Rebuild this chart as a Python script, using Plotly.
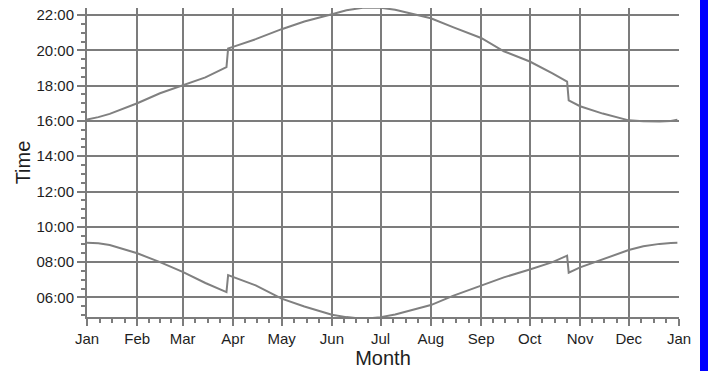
import pandas as pd
import plotly.graph_objects as go

# Sample dates through the year (includes the day before/after each clock change)
dates = [
    "2009-01-01", "2009-01-08", "2009-01-15", "2009-02-01", "2009-02-15",
    "2009-03-01", "2009-03-15", "2009-03-28", "2009-03-29", "2009-04-01",
    "2009-04-15", "2009-05-01", "2009-05-15", "2009-06-01", "2009-06-10",
    "2009-06-21", "2009-07-01", "2009-07-10", "2009-07-18", "2009-08-01",
    "2009-08-15", "2009-09-01", "2009-09-15", "2009-10-01", "2009-10-15",
    "2009-10-24", "2009-10-25", "2009-11-01", "2009-11-15", "2009-12-01",
    "2009-12-10", "2009-12-20", "2009-12-27", "2009-12-31",
]

sunrise = [
    "09:06", "09:04", "08:58", "08:30", "08:00",
    "07:27", "06:49", "06:18", "07:16", "07:10",
    "06:41", "05:56", "05:29", "05:01", "04:53",
    "04:47", "04:53", "05:02", "05:13", "05:34",
    "06:06", "06:39", "07:08", "07:35", "08:00",
    "08:22", "07:24", "07:42", "08:10", "08:41",
    "08:54", "09:02", "09:05", "09:06",
]

sunset = [
    "16:05", "16:13", "16:24", "17:00", "17:34",
    "18:00", "18:28", "19:03", "20:06", "20:12",
    "20:38", "21:12", "21:38", "22:03", "22:16",
    "22:26", "22:25", "22:18", "22:07", "21:49",
    "21:18", "20:42", "19:57", "19:22", "18:42",
    "18:14", "17:10", "16:50", "16:25", "16:02",
    "15:59", "15:58", "16:00", "16:04",
]

time_ticks = ["06:00", "08:00", "10:00", "12:00", "14:00", "16:00", "18:00", "20:00", "22:00"]


def to_hours(hhmm):
    h, m = hhmm.split(":")
    return int(h) + int(m) / 60.0


x = pd.to_datetime(dates)
rise_h = [to_hours(t) for t in sunrise]
set_h = [to_hours(t) for t in sunset]
tick_h = [to_hours(t) for t in time_ticks]

# Minor ticks: each month split into quarters
month_starts = pd.date_range("2009-01-01", "2010-01-01", freq="MS")
minor_x = []
for a, b in zip(month_starts[:-1], month_starts[1:]):
    for k in (1, 2, 3):
        minor_x.append(a + (b - a) * k / 4)

GRID = "#7c7c7c"
LINE = "#808080"
TXT = "#1e1e1e"
FONT = "Liberation Sans, Arial, sans-serif"

fig = go.Figure()
for ys in (set_h, rise_h):
    fig.add_trace(go.Scatter(
        x=x, y=ys, mode="lines",
        line=dict(color=LINE, width=2),
        showlegend=False, hoverinfo="skip",
    ))

W, H = 708, 371
L, R, T, B = 87, 29, 8, 54
pw, ph = W - L - R, H - T - B

fig.update_layout(
    width=W, height=H,
    margin=dict(l=L, r=R, t=T, b=B, autoexpand=False),
    paper_bgcolor="white", plot_bgcolor="white",
    font=dict(family=FONT, color=TXT, size=15),
    xaxis=dict(
        type="date",
        range=["2009-01-01", "2010-01-01"],
        tick0="2009-01-01", dtick="M1", tickformat="%b",
        ticks="outside", ticklen=7, tickwidth=2, tickcolor=GRID,
        showgrid=True, gridcolor=GRID, gridwidth=2,
        showline=True, linecolor=GRID, linewidth=2,
        zeroline=False, automargin=False,
        tickfont=dict(size=15),
        minor=dict(tickmode="array", tickvals=minor_x, ticks="outside",
                   ticklen=4, tickwidth=1.5, tickcolor=GRID, showgrid=False),
        title=dict(text="Month", font=dict(size=20), standoff=2),
    ),
    yaxis=dict(
        range=[4.89, 22.40],
        tickmode="array", tickvals=tick_h, ticktext=time_ticks,
        ticks="outside", ticklen=8, tickwidth=2, tickcolor=GRID,
        showgrid=True, gridcolor=GRID, gridwidth=2,
        showline=True, linecolor=GRID, linewidth=2,
        zeroline=False, automargin=False,
        tickfont=dict(size=15),
        minor=dict(dtick=0.5, tick0=0, ticks="outside", ticklen=4,
                   tickwidth=1.5, tickcolor=GRID, showgrid=False),
        title=dict(text="Time", font=dict(size=20), standoff=0),
    ),
    shapes=[dict(
        type="rect", xref="paper", yref="paper", layer="above",
        x0=(700 - L) / pw, x1=(W + 2 - L) / pw,
        y0=(T + ph - H - 2) / ph, y1=(T + ph + 2) / ph,
        fillcolor="#0000ff", line=dict(width=0),
    )],
)

fig.write_html("out.html")
